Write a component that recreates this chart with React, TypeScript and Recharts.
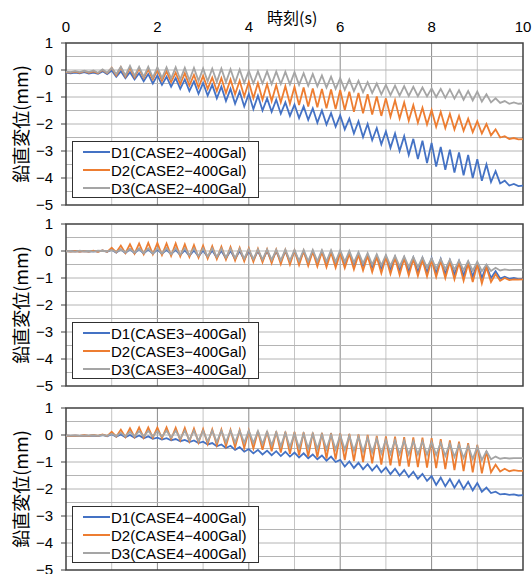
import { LineChart, Line, XAxis, YAxis, CartesianGrid, ReferenceArea } from "recharts";

// sampled every 0.1 s, 0.0 .. 10.0
const d1Case2 = [
  -0.1, -0.12, -0.1, -0.12, -0.08, -0.13, -0.1, -0.14, -0.05, -0.15,
  -0.02, -0.25, -0.05, -0.3, -0.08, -0.35, -0.12, -0.42, -0.15, -0.5,
  -0.2, -0.55, -0.25, -0.62, -0.3, -0.7, -0.35, -0.78, -0.42, -0.88,
  -0.48, -0.95, -0.55, -1.05, -0.62, -1.15, -0.7, -1.25, -0.8, -1.35,
  -0.88, -1.45, -0.95, -1.5, -1.05, -1.55, -1.1, -1.62, -1.2, -1.7,
  -1.28, -1.78, -1.35, -1.85, -1.42, -1.95, -1.5, -2.02, -1.6, -2.1,
  -1.68, -2.2, -1.8, -2.35, -1.9, -2.48, -2.0, -2.6, -2.15, -2.75,
  -2.28, -2.88, -2.35, -3.0, -2.45, -3.15, -2.55, -3.3, -2.62, -3.45,
  -2.7, -3.58, -2.85, -3.7, -2.95, -3.8, -3.05, -3.9, -3.15, -4.0,
  -3.3, -4.1, -3.5, -4.15, -3.75, -4.2, -4.1, -4.28, -4.22, -4.3,
  -4.28,
];
const d2Case2 = [
  -0.08, -0.1, -0.06, -0.1, -0.04, -0.1, -0.05, -0.12, 0.0, -0.12,
  0.08, -0.2, 0.1, -0.25, 0.08, -0.28, 0.05, -0.3, 0.02, -0.35,
  0.0, -0.4, -0.05, -0.45, -0.1, -0.52, -0.12, -0.58, -0.18, -0.65,
  -0.22, -0.7, -0.28, -0.78, -0.3, -0.85, -0.35, -0.9, -0.4, -0.98,
  -0.44, -1.05, -0.48, -1.1, -0.52, -1.15, -0.56, -1.2, -0.6, -1.25,
  -0.62, -1.3, -0.65, -1.35, -0.68, -1.38, -0.7, -1.42, -0.72, -1.45,
  -0.74, -1.48, -0.8, -1.55, -0.85, -1.6, -0.9, -1.65, -0.98, -1.7,
  -1.05, -1.73, -1.12, -1.8, -1.2, -1.88, -1.3, -1.95, -1.4, -2.02,
  -1.48, -2.1, -1.55, -2.15, -1.62, -2.2, -1.7, -2.25, -1.8, -2.3,
  -1.9, -2.35, -2.0, -2.42, -2.2, -2.5, -2.45, -2.56, -2.52, -2.57,
  -2.56,
];
const d3Case2 = [
  -0.06, -0.08, -0.04, -0.08, -0.03, -0.08, -0.02, -0.1, 0.02, -0.1,
  0.08, -0.15, 0.12, -0.2, 0.15, -0.22, 0.12, -0.25, 0.12, -0.28,
  0.1, -0.3, 0.1, -0.32, 0.1, -0.35, 0.08, -0.38, 0.08, -0.4,
  0.06, -0.42, 0.05, -0.44, 0.05, -0.45, 0.03, -0.47, 0.02, -0.48,
  -0.03, -0.5, -0.05, -0.5, -0.05, -0.52, -0.06, -0.52, -0.07, -0.53,
  -0.08, -0.55, -0.12, -0.58, -0.15, -0.6, -0.2, -0.65, -0.25, -0.7,
  -0.3, -0.74, -0.35, -0.78, -0.4, -0.82, -0.45, -0.85, -0.5, -0.9,
  -0.55, -0.93, -0.58, -0.95, -0.6, -0.96, -0.62, -0.97, -0.65, -0.98,
  -0.68, -1.0, -0.7, -1.03, -0.72, -1.06, -0.75, -1.1, -0.78, -1.13,
  -0.8, -1.17, -0.9, -1.2, -1.05, -1.22, -1.15, -1.25, -1.2, -1.25,
  -1.24,
];

const d1Case3 = [
  0.0, -0.01, 0.0, -0.02, 0.0, -0.02, 0.0, -0.02, 0.02, -0.03,
  0.05, -0.06, 0.06, -0.08, 0.07, -0.08, 0.08, -0.1, 0.06, -0.1,
  0.05, -0.1, 0.04, -0.12, 0.04, -0.15, 0.03, -0.18, 0.02, -0.2,
  0.02, -0.22, 0.02, -0.25, 0.01, -0.28, 0.01, -0.3, 0.0, -0.32,
  0.0, -0.33, 0.0, -0.35, 0.0, -0.37, -0.01, -0.38, -0.01, -0.4,
  -0.01, -0.4, -0.02, -0.42, -0.02, -0.43, -0.02, -0.44, -0.03, -0.45,
  -0.03, -0.45, -0.06, -0.5, -0.1, -0.55, -0.14, -0.6, -0.18, -0.65,
  -0.2, -0.68, -0.22, -0.72, -0.24, -0.75, -0.25, -0.78, -0.26, -0.8,
  -0.27, -0.82, -0.3, -0.85, -0.34, -0.88, -0.38, -0.92, -0.42, -0.95,
  -0.45, -1.0, -0.55, -1.0, -0.75, -1.02, -0.95, -1.03, -1.0, -1.04,
  -1.03,
];
const d2Case3 = [
  0.0, -0.02, 0.0, -0.02, 0.0, -0.02, 0.01, -0.03, 0.02, -0.03,
  0.12, -0.05, 0.2, -0.08, 0.25, -0.1, 0.28, -0.12, 0.3, -0.12,
  0.3, -0.15, 0.28, -0.18, 0.28, -0.2, 0.25, -0.22, 0.22, -0.25,
  0.2, -0.28, 0.18, -0.3, 0.16, -0.32, 0.15, -0.35, 0.12, -0.38,
  0.1, -0.4, 0.08, -0.42, 0.06, -0.45, 0.05, -0.48, 0.04, -0.5,
  0.02, -0.52, 0.0, -0.55, -0.02, -0.57, -0.03, -0.6, -0.05, -0.62,
  -0.07, -0.63, -0.1, -0.68, -0.14, -0.72, -0.18, -0.78, -0.22, -0.82,
  -0.24, -0.85, -0.26, -0.88, -0.28, -0.9, -0.3, -0.92, -0.32, -0.94,
  -0.33, -0.96, -0.36, -1.0, -0.4, -1.05, -0.44, -1.1, -0.47, -1.15,
  -0.5, -1.2, -0.6, -1.15, -0.85, -1.1, -1.0, -1.08, -1.05, -1.06,
  -1.05,
];
const d3Case3 = [
  -0.01, 0.0, -0.02, 0.01, -0.01, 0.0, -0.02, 0.01, 0.0, -0.01,
  0.04, -0.04, 0.06, -0.05, 0.08, -0.06, 0.1, -0.08, 0.1, -0.1,
  0.1, -0.1, 0.1, -0.12, 0.1, -0.13, 0.1, -0.15, 0.1, -0.18,
  0.1, -0.2, 0.1, -0.22, 0.09, -0.24, 0.08, -0.26, 0.08, -0.28,
  0.07, -0.3, 0.06, -0.32, 0.06, -0.33, 0.05, -0.35, 0.05, -0.36,
  0.04, -0.37, 0.04, -0.38, 0.04, -0.38, 0.03, -0.39, 0.03, -0.4,
  0.03, -0.4, 0.0, -0.43, -0.04, -0.46, -0.08, -0.5, -0.12, -0.53,
  -0.15, -0.55, -0.18, -0.57, -0.2, -0.59, -0.22, -0.6, -0.24, -0.62,
  -0.27, -0.65, -0.3, -0.67, -0.32, -0.69, -0.35, -0.71, -0.37, -0.73,
  -0.4, -0.75, -0.5, -0.74, -0.62, -0.72, -0.68, -0.71, -0.7, -0.7,
  -0.7,
];

const d1Case4 = [
  -0.02, -0.03, -0.02, -0.03, -0.02, -0.03, -0.02, -0.04, 0.0, -0.05,
  0.03, -0.06, 0.02, -0.08, 0.0, -0.1, -0.02, -0.12, -0.05, -0.14,
  -0.1, -0.17, -0.12, -0.2, -0.15, -0.23, -0.18, -0.26, -0.2, -0.3,
  -0.25, -0.35, -0.3, -0.42, -0.35, -0.48, -0.4, -0.55, -0.45, -0.62,
  -0.52, -0.68, -0.55, -0.72, -0.58, -0.75, -0.6, -0.78, -0.62, -0.8,
  -0.65, -0.83, -0.68, -0.86, -0.72, -0.9, -0.76, -0.95, -0.8, -1.0,
  -0.92, -1.17, -0.98, -1.22, -1.03, -1.27, -1.08, -1.32, -1.13, -1.38,
  -1.2, -1.45, -1.25, -1.5, -1.3, -1.56, -1.36, -1.62, -1.44, -1.7,
  -1.52, -1.85, -1.58, -1.9, -1.63, -1.95, -1.68, -2.0, -1.73, -2.05,
  -1.78, -2.1, -1.95, -2.15, -2.1, -2.2, -2.18, -2.22, -2.2, -2.24,
  -2.23,
];
const d2Case4 = [
  -0.02, -0.03, -0.02, -0.03, -0.01, -0.03, 0.0, -0.03, 0.02, -0.04,
  0.12, -0.06, 0.2, -0.08, 0.25, -0.08, 0.28, -0.1, 0.28, -0.1,
  0.28, -0.12, 0.28, -0.15, 0.27, -0.2, 0.26, -0.24, 0.24, -0.28,
  0.22, -0.33, 0.21, -0.38, 0.2, -0.42, 0.19, -0.45, 0.18, -0.48,
  0.16, -0.5, 0.15, -0.55, 0.14, -0.6, 0.13, -0.65, 0.12, -0.7,
  0.11, -0.75, 0.1, -0.8, 0.09, -0.83, 0.08, -0.87, 0.07, -0.9,
  0.06, -0.93, 0.04, -0.97, 0.02, -1.0, 0.0, -1.05, -0.03, -1.1,
  -0.05, -1.12, -0.06, -1.15, -0.08, -1.17, -0.09, -1.19, -0.1, -1.21,
  -0.12, -1.23, -0.15, -1.26, -0.2, -1.3, -0.25, -1.34, -0.3, -1.38,
  -0.37, -1.42, -0.6, -1.38, -1.1, -1.35, -1.25, -1.34, -1.3, -1.33,
  -1.33,
];
const d3Case4 = [
  -0.02, -0.02, -0.02, -0.03, -0.02, -0.02, -0.01, -0.03, 0.0, -0.03,
  0.05, -0.04, 0.08, -0.05, 0.12, -0.05, 0.14, -0.05, 0.15, -0.05,
  0.15, -0.06, 0.16, -0.1, 0.16, -0.14, 0.16, -0.18, 0.16, -0.22,
  0.16, -0.24, 0.16, -0.26, 0.16, -0.27, 0.16, -0.28, 0.16, -0.29,
  0.16, -0.3, 0.14, -0.34, 0.12, -0.38, 0.1, -0.42, 0.08, -0.45,
  0.06, -0.48, 0.05, -0.5, 0.04, -0.52, 0.02, -0.53, 0.01, -0.54,
  0.0, -0.55, -0.03, -0.58, -0.06, -0.62, -0.1, -0.65, -0.14, -0.68,
  -0.17, -0.7, -0.19, -0.71, -0.2, -0.72, -0.22, -0.72, -0.23, -0.73,
  -0.25, -0.74, -0.28, -0.77, -0.32, -0.81, -0.36, -0.85, -0.4, -0.89,
  -0.43, -0.93, -0.6, -0.9, -0.8, -0.88, -0.85, -0.87, -0.86, -0.86,
  -0.86,
];

const timeTicks = [0, 2, 4, 6, 8, 10];
const yTicks = [-5, -4, -3, -2, -1, 0, 1];
const minorX = [1, 3, 5, 7, 9];
const majorX = [2, 4, 6, 8];
const gridY = [-4.5, -4, -3.5, -3, -2.5, -2, -1.5, -1, -0.5, 0, 0.5];

const colors = ["#4472C4", "#ED7D31", "#A5A5A5"];
const cases = ["CASE2", "CASE3", "CASE4"];
const panelSeries = [
  [d1Case2, d2Case2, d3Case2],
  [d1Case3, d2Case3, d3Case3],
  [d1Case4, d2Case4, d3Case4],
];
const panelTops = [43, 224, 408];
const PANEL_H = 162;

const FONT = '"Liberation Sans", Arial, "Noto Sans CJK JP", sans-serif';
const JP_FONT = '"Noto Sans CJK JP", sans-serif';

const fmt = (v: number) => (v < 0 ? `\u2212${Math.abs(v)}` : `${v}`);

function Panel({ idx }: { idx: number }) {
  const series = panelSeries[idx];
  const data = series[0].map((_, i) => ({
    t: i / 10,
    d1: series[0][i],
    d2: series[1][i],
    d3: series[2][i],
  }));
  const first = idx === 0;
  const top = panelTops[idx];
  const chartTop = first ? 0 : top - 10;
  const height = first ? top + PANEL_H + 10 : PANEL_H + 20;
  const names = ["D1", "D2", "D3"].map((d) => `${d}(${cases[idx]}\u2212400Gal)`);

  return (
    <>
      <div style={{ position: "absolute", left: 0, top: chartTop }}>
        <LineChart
          width={532}
          height={height}
          data={data}
          margin={{ top: first ? 23 : 10, right: 9, bottom: 10, left: 26 }}
        >
          <CartesianGrid stroke="#c4c4c4" verticalValues={minorX} horizontal={false} />
          <CartesianGrid stroke="#8a8a8a" verticalValues={majorX} horizontal={false} />
          <CartesianGrid stroke="#b4b4b4" horizontalValues={gridY} vertical={false} />
          <XAxis
            dataKey="t"
            type="number"
            domain={[0, 10]}
            ticks={timeTicks}
            interval={0}
            orientation="top"
            hide={!first}
            height={20}
            axisLine={false}
            tickLine={false}
            tickMargin={5}
            tick={{ fill: "#000", fontSize: 15, fontFamily: FONT }}
          />
          <YAxis
            type="number"
            domain={[-5, 1]}
            ticks={yTicks}
            interval={0}
            width={40}
            axisLine={false}
            tickSize={5}
            tickMargin={8}
            tickLine={{ stroke: "#404040" }}
            tickFormatter={fmt}
            tick={{ fill: "#000", fontSize: 15, fontFamily: FONT }}
          />
          {series.map((_, k) => (
            <Line
              key={k}
              dataKey={`d${k + 1}`}
              type="linear"
              stroke={colors[k]}
              strokeWidth={1.8}
              dot={false}
              isAnimationActive={false}
            />
          ))}
          <ReferenceArea
            x1={0}
            x2={10}
            y1={-5}
            y2={1}
            fill="none"
            stroke="#404040"
            strokeWidth={1.5}
          />
        </LineChart>
      </div>
      <div
        style={{
          position: "absolute",
          left: 20,
          top: top + PANEL_H / 2,
          transform: "translate(-50%, -50%) rotate(-90deg)",
          whiteSpace: "nowrap",
          fontSize: 18,
          fontFamily: JP_FONT,
          color: "#000",
        }}
      >
        鉛直変位(mm)
      </div>
      <div
        style={{
          position: "absolute",
          left: 72,
          top: top + 98,
          width: 187,
          height: 57,
          border: "1px solid #303030",
          background: "#fff",
          boxSizing: "border-box",
          paddingTop: 1,
        }}
      >
        {names.map((n, k) => (
          <div key={n} style={{ display: "flex", alignItems: "center", height: 18 }}>
            <div style={{ width: 27, height: 2, background: colors[k], marginLeft: 10 }} />
            <span style={{ fontSize: 15, fontFamily: FONT, color: "#000", marginLeft: 1 }}>{n}</span>
          </div>
        ))}
      </div>
    </>
  );
}

export default function App() {
  return (
    <div style={{ position: "absolute", left: 0, top: 0, width: 532, height: 574, background: "#fff", overflow: "hidden" }}>
      <div
        style={{
          position: "absolute",
          left: 267,
          top: 5,
          fontSize: 16,
          fontFamily: JP_FONT,
          color: "#000",
          whiteSpace: "nowrap",
        }}
      >
        時刻(s)
      </div>
      {[0, 1, 2].map((i) => (
        <Panel key={i} idx={i} />
      ))}
    </div>
  );
}
